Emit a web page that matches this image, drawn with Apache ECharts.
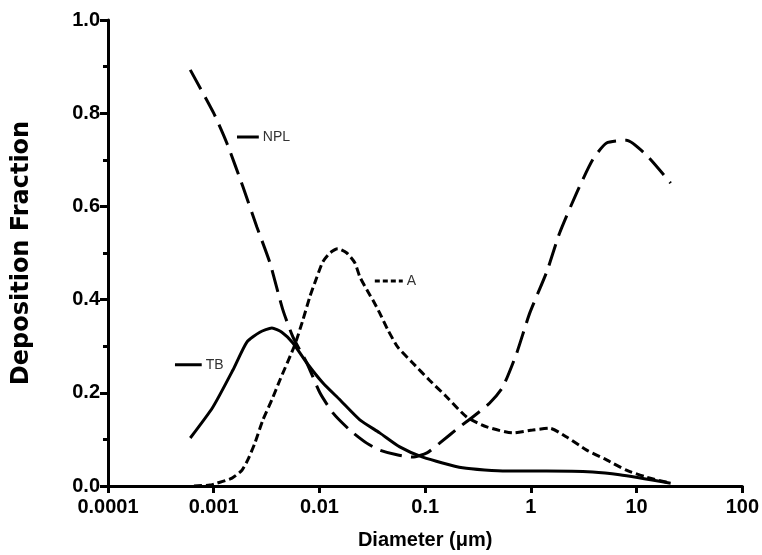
<!DOCTYPE html>
<html>
<head>
<meta charset="utf-8">
<script src="https://cdn.jsdelivr.net/npm/echarts@6/dist/echarts.min.js"></script>
<style>
  html, body { margin: 0; padding: 0; background: #fff; }
  #chart { width: 762px; height: 555px; }
</style>
</head>
<body>
<div id="chart"></div>
<script>
// values (diameter in um, deposition fraction)
const nplDiam = [0.0006, 0.001, 0.00133, 0.00189, 0.00256, 0.0034, 0.00451, 0.00561, 0.0076, 0.0101, 0.0134, 0.0194, 0.028, 0.0372, 0.054, 0.076, 0.104, 0.137, 0.212, 0.282, 0.408, 0.541, 0.734, 0.975, 1.41, 1.87, 2.71, 3.84, 5.2, 8.0, 12.4, 21];
const nplFrac = [0.893, 0.800, 0.736, 0.642, 0.556, 0.479, 0.378, 0.320, 0.264, 0.200, 0.157, 0.120, 0.092, 0.077, 0.067, 0.062, 0.071, 0.092, 0.127, 0.148, 0.178, 0.212, 0.285, 0.371, 0.459, 0.543, 0.629, 0.700, 0.736, 0.742, 0.710, 0.650];

const aDiam = [0.00065, 0.00092, 0.00107, 0.00149, 0.00185, 0.0021, 0.00245, 0.00292, 0.00355, 0.00422, 0.00585, 0.00697, 0.00811, 0.00945, 0.01076, 0.01254, 0.0149, 0.01816, 0.0216, 0.0241, 0.0281, 0.032, 0.0372, 0.0444, 0.0551, 0.0763, 0.110, 0.160, 0.247, 0.382, 0.673, 1.04, 1.51, 2.18, 3.37, 5.2, 8.0, 12.4, 21];
const aFrac = [0.000, 0.002, 0.006, 0.017, 0.034, 0.056, 0.092, 0.142, 0.185, 0.227, 0.303, 0.356, 0.406, 0.448, 0.481, 0.500, 0.509, 0.500, 0.479, 0.449, 0.421, 0.399, 0.371, 0.335, 0.298, 0.264, 0.227, 0.191, 0.148, 0.127, 0.114, 0.120, 0.124, 0.105, 0.077, 0.056, 0.034, 0.019, 0.006];

const tbDiam = [0.0006, 0.00098, 0.00152, 0.00206, 0.00273, 0.00355, 0.00441, 0.00561, 0.0076, 0.0108, 0.0156, 0.0241, 0.0372, 0.0575, 0.0948, 0.226, 0.590, 1.41, 3.84, 6.9, 21];
const tbFrac = [0.103, 0.169, 0.249, 0.309, 0.330, 0.339, 0.330, 0.307, 0.264, 0.221, 0.185, 0.142, 0.114, 0.084, 0.062, 0.039, 0.032, 0.032, 0.030, 0.024, 0.006];

// inline curve labels: [start diameter, end diameter, fraction]
const nplKey = [0.00166, 0.00267, 0.749];
const aKey = [0.0334, 0.0614, 0.44];
const tbKey = [0.00043, 0.00077, 0.26];

const xTickLabels = ['0.0001', '0.001', '0.01', '0.1', '1', '10', '100'];

const zip = (xs, ys) => xs.map((x, i) => [x, ys[i]]);
const keyLine = k => [[k[0], k[2]], [k[1], k[2]]];

const font = '"Liberation Sans", Arial, sans-serif';
const black = '#000';

const chart = echarts.init(document.getElementById('chart'), null, { renderer: 'canvas' });

const keyLabel = name => ({
	show: true,
	formatter: name,
	color: '#333',
	fontFamily: font,
	fontSize: 14,
	distance: 4,
});

chart.setOption({
	animation: false,
	backgroundColor: '#fff',
	grid: { left: 108, right: 19, top: 20, bottom: 69 },
	xAxis: {
		type: 'log',
		logBase: 10,
		min: 0.0001,
		max: 100,
		name: 'Diameter (μm)',
		nameLocation: 'middle',
		nameGap: 44,
		nameTextStyle: { fontFamily: font, fontWeight: 'bold', fontSize: 20, color: black },
		axisLine: { lineStyle: { color: black, width: 3 } },
		axisTick: { length: 7, lineStyle: { color: black, width: 3 } },
		axisLabel: {
			margin: 11,
			fontFamily: font,
			fontWeight: 'bold',
			fontSize: 20,
			color: black,
			formatter: v => xTickLabels[Math.round(Math.log10(v)) + 4],
		},
		splitLine: { show: false },
		minorTick: { show: false },
	},
	yAxis: {
		type: 'value',
		min: 0,
		max: 1,
		interval: 0.2,
		name: 'Deposition Fraction',
		nameLocation: 'middle',
		nameGap: 74,
		nameTextStyle: { fontFamily: '"DejaVu Sans", sans-serif', fontWeight: 'bold', fontSize: 24, color: black },
		axisLine: { show: true, lineStyle: { color: black, width: 3 } },
		axisTick: { show: true, length: 8, lineStyle: { color: black, width: 3 } },
		minorTick: { show: true, splitNumber: 2, length: 5, lineStyle: { color: black, width: 3 } },
		axisLabel: {
			margin: 8,
			fontFamily: font,
			fontWeight: 'bold',
			fontSize: 20,
			color: black,
			formatter: v => v.toFixed(1),
		},
		splitLine: { show: false },
	},
	series: [
		{
			name: 'NPL',
			type: 'line',
			data: zip(nplDiam, nplFrac),
			symbol: 'none',
			smooth: 0.2,
			lineStyle: { color: black, width: 3, type: [22, 9] },
		},
		{
			name: 'A',
			type: 'line',
			data: zip(aDiam, aFrac),
			symbol: 'none',
			smooth: 0.2,
			lineStyle: { color: black, width: 3, type: [8, 4] },
		},
		{
			name: 'TB',
			type: 'line',
			data: zip(tbDiam, tbFrac),
			symbol: 'none',
			smooth: 0.2,
			lineStyle: { color: black, width: 3 },
		},
		{
			type: 'line',
			data: keyLine(nplKey),
			symbol: 'none',
			lineStyle: { color: black, width: 3 },
			endLabel: keyLabel('NPL'),
		},
		{
			type: 'line',
			data: keyLine(aKey),
			symbol: 'none',
			lineStyle: { color: black, width: 3, type: [5, 3] },
			endLabel: keyLabel('A'),
		},
		{
			type: 'line',
			data: keyLine(tbKey),
			symbol: 'none',
			lineStyle: { color: black, width: 3 },
			endLabel: keyLabel('TB'),
		},
	],
});
</script>
</body>
</html>
